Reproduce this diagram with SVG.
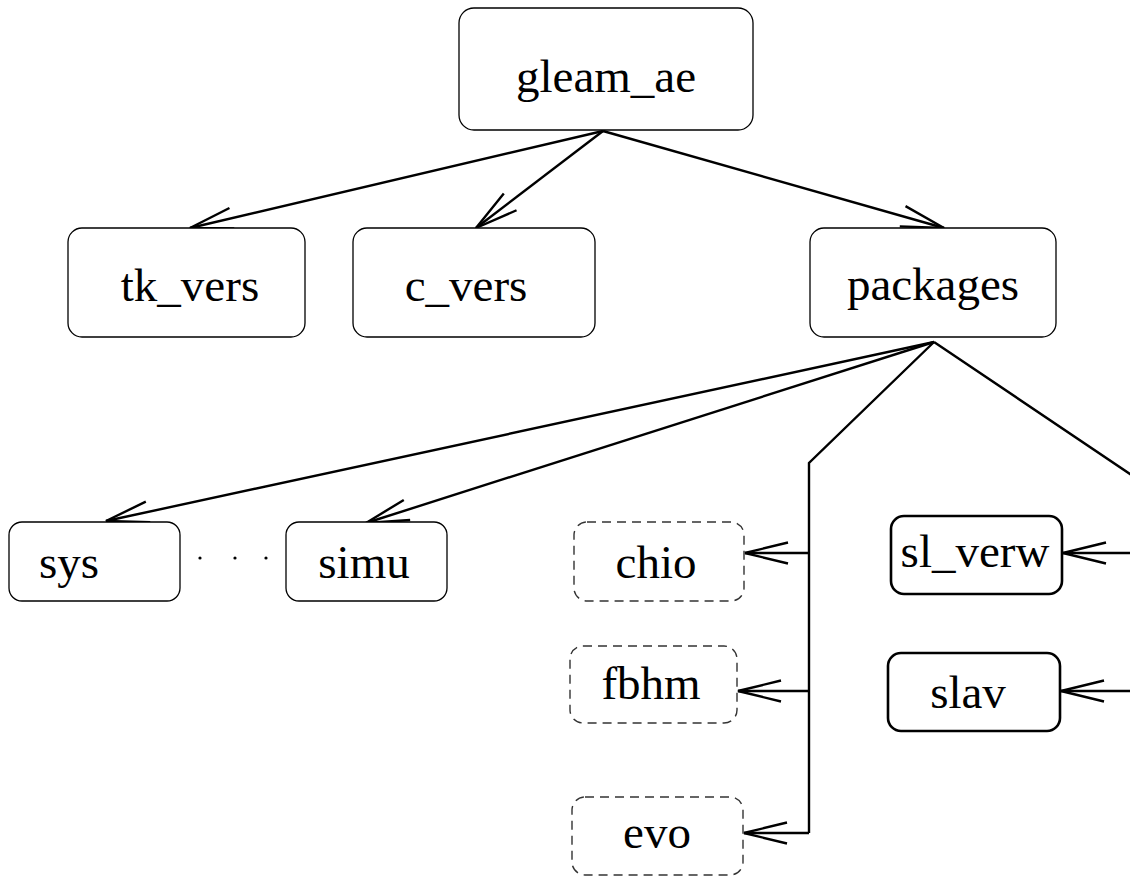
<svg xmlns="http://www.w3.org/2000/svg" width="1130" height="876" viewBox="0 0 1130 876">
  <style>
    .box { fill: #ffffff; stroke: #000000; stroke-width: 1.3; }
    .bold { fill: #ffffff; stroke: #000000; stroke-width: 2.6; }
    .dash { fill: #ffffff; stroke: #333333; stroke-width: 1.4; stroke-dasharray: 9 6; }
    .lbl { font-family: "Liberation Serif", "Times New Roman", serif; font-size: 47px; fill: #000000; text-anchor: middle; }
    .edge { fill: none; stroke: #000000; stroke-width: 2.4; }
  </style>
  <defs>
    <marker id="open" markerUnits="userSpaceOnUse" markerWidth="50" markerHeight="30" viewBox="0 0 50 30" refX="46" refY="15" orient="auto" overflow="visible">
      <path d="M3,4.5 L46,15 L3,25.5" fill="none" stroke="#000000" stroke-width="2.4"/>
    </marker>
  </defs>

  <!-- connectors -->
  <g id="connectors">
    <line class="edge" x1="603" y1="131" x2="190" y2="228" marker-end="url(#open)"/>
    <line class="edge" x1="603" y1="131" x2="476" y2="228" marker-end="url(#open)"/>
    <line class="edge" x1="603" y1="131" x2="944" y2="228" marker-end="url(#open)"/>
    <line class="edge" x1="934" y1="342" x2="106" y2="521" marker-end="url(#open)"/>
    <line class="edge" x1="934" y1="342" x2="366" y2="523" marker-end="url(#open)"/>
    <polyline class="edge" points="934,342 809,463 809,833"/>
    <line class="edge" x1="809" y1="553" x2="745" y2="553" marker-end="url(#open)"/>
    <line class="edge" x1="809" y1="691" x2="738" y2="691" marker-end="url(#open)"/>
    <line class="edge" x1="809" y1="833" x2="744" y2="833" marker-end="url(#open)"/>
    <polyline class="edge" points="934,342 1136,478 1136,691"/>
    <line class="edge" x1="1136" y1="553" x2="1063" y2="553" marker-end="url(#open)"/>
    <line class="edge" x1="1136" y1="691" x2="1061" y2="691" marker-end="url(#open)"/>
  </g>

  <g id="gleam_ae">
    <rect class="box" x="459" y="8" width="294" height="122" rx="15"/>
    <text class="lbl" x="606" y="92">gleam_ae</text>
  </g>
  <g id="tk_vers">
    <rect class="box" x="68" y="228" width="237" height="109" rx="14"/>
    <text class="lbl" x="190" y="301">tk_vers</text>
  </g>
  <g id="c_vers">
    <rect class="box" x="353" y="228" width="242" height="109" rx="14"/>
    <text class="lbl" x="466" y="301">c_vers</text>
  </g>
  <g id="packages">
    <rect class="box" x="810" y="228" width="246" height="109" rx="14"/>
    <text class="lbl" x="933" y="300">packages</text>
  </g>
  <g id="sys">
    <rect class="box" x="9" y="522" width="171" height="79" rx="13"/>
    <text class="lbl" x="69" y="578">sys</text>
  </g>
  <g id="ellipsis">
    <circle cx="200" cy="558" r="1.6" fill="#000000"/>
    <circle cx="235" cy="558" r="1.6" fill="#000000"/>
    <circle cx="266" cy="558" r="1.6" fill="#000000"/>
  </g>
  <g id="simu">
    <rect class="box" x="286" y="522" width="161" height="79" rx="13"/>
    <text class="lbl" x="364" y="578">simu</text>
  </g>
  <g id="chio">
    <rect class="dash" x="574" y="522" width="170" height="79" rx="13"/>
    <text class="lbl" x="656" y="578">chio</text>
  </g>
  <g id="fbhm">
    <rect class="dash" x="570" y="646" width="167" height="77" rx="13"/>
    <text class="lbl" x="651" y="699">fbhm</text>
  </g>
  <g id="evo">
    <rect class="dash" x="572" y="797" width="171" height="78" rx="13"/>
    <text class="lbl" x="657" y="848">evo</text>
  </g>
  <g id="sl_verw">
    <rect class="bold" x="891" y="516" width="171" height="78" rx="13"/>
    <text class="lbl" x="975" y="567">sl_verw</text>
  </g>
  <g id="slav">
    <rect class="bold" x="888" y="653" width="172" height="78" rx="13"/>
    <text class="lbl" x="968" y="708">slav</text>
  </g>
</svg>
